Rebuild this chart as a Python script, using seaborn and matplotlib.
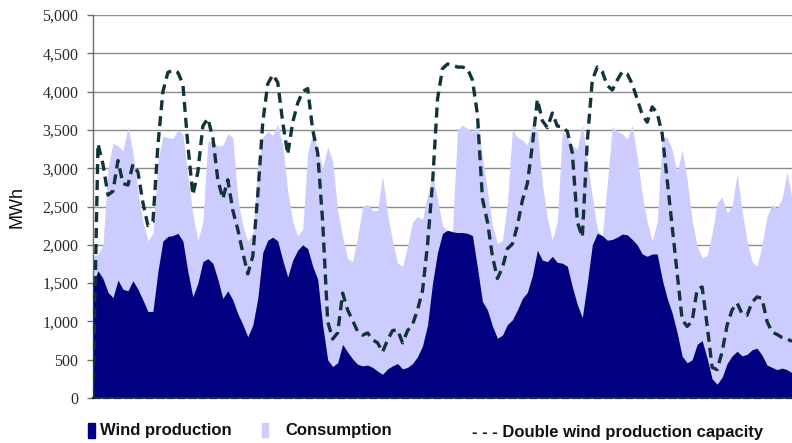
import matplotlib
matplotlib.use("Agg")
import matplotlib.pyplot as plt
import numpy as np
import pandas as pd
import seaborn as sns
from matplotlib.patches import Rectangle
from matplotlib.ticker import FuncFormatter, MultipleLocator

# hourly samples (MWh)
consumption = [
    1850, 1880, 2000, 3000, 3330, 3290, 3230, 3540, 3200, 2700,
    2300, 2050, 2150, 3100, 3420, 3400, 3390, 3500, 3450, 2900,
    2400, 2050, 2300, 3350, 3350, 3290, 3300, 3450, 3400, 2600,
    2250, 2050, 2150, 3000, 3400, 3480, 3430, 3580, 3300, 2700,
    2300, 2120, 2200, 3200, 3450, 3250, 3000, 3280, 3100, 2450,
    2100, 1820, 1780, 2100, 2500, 2530, 2450, 2450, 2900, 2400,
    2050, 1760, 1720, 1980, 2300, 2370, 2330, 2650, 2900, 2600,
    2250, 2180, 2180, 3500, 3560, 3520, 3470, 3600, 3150, 2700,
    2250, 2020, 2050, 2550, 3500, 3400, 3370, 3300, 3580, 3500,
    2800, 2350, 2060, 2300, 3480, 3400, 3300, 3250, 3580, 3100,
    2630, 2200, 2110, 2800, 3540, 3480, 3450, 3380, 3560, 3150,
    2650, 2300, 2050, 2300, 3400, 3400, 3240, 2950, 3240, 2850,
    2320, 1980, 1830, 1860, 2150, 2550, 2620, 2420, 2500, 2930,
    2450, 2050, 1780, 1720, 2000, 2370, 2520, 2480, 2600, 2950,
    2600,
]
wind = [
    1500, 1660, 1560, 1380, 1310, 1540, 1420, 1400, 1530, 1420,
    1280, 1130, 1130, 1650, 2050, 2110, 2120, 2150, 2050, 1650,
    1320, 1500, 1780, 1820, 1760, 1550, 1300, 1400, 1280, 1100,
    960, 800, 950, 1300, 1900, 2060, 2100, 2050, 1800, 1580,
    1800, 1930, 2000, 1950, 1720, 1550, 950, 500, 410, 460,
    700, 600, 510, 440, 420, 430, 400, 350, 310, 380,
    420, 450, 380, 400, 450, 540, 680, 950, 1500, 1900,
    2150, 2190, 2170, 2160, 2160, 2150, 2120, 1700, 1260, 1150,
    940, 780, 820, 960, 1020, 1150, 1300, 1380, 1600, 1930,
    1800, 1780, 1850, 1770, 1760, 1720, 1450, 1220, 1050, 1500,
    2000, 2150, 2120, 2060, 2070, 2100, 2140, 2130, 2070, 2000,
    1880, 1850, 1880, 1880, 1550, 1300, 1110, 850, 545, 460,
    500, 700, 750, 520, 250, 180, 270, 450, 550, 610,
    550, 570, 630, 650, 560, 430, 400, 370, 390, 370,
    330,
]
double_wind = [
    0, 3320, 3050, 2650, 2700, 3100, 2800, 2780, 3050, 2950,
    2550, 2250, 2300, 3300, 4000, 4250, 4280, 4250, 4100, 3300,
    2650, 2950, 3550, 3650, 3400, 2850, 2600, 2850, 2450, 2200,
    1900, 1620, 1850, 2650, 3600, 4100, 4220, 4120, 3600, 3180,
    3600, 3850, 4000, 4040, 3500, 3200, 2300, 1000, 770, 850,
    1370, 1150, 1010, 870, 820, 850, 760, 720, 600, 760,
    880, 890, 720, 880, 960, 1150, 1400, 2000, 2800, 3900,
    4300, 4360, 4350, 4320, 4320, 4300, 4150, 3700, 2600, 2300,
    1850, 1560, 1700, 1950, 2010, 2250, 2580, 2800, 3300, 3900,
    3620, 3530, 3720, 3550, 3540, 3480, 3200, 2300, 2100, 3350,
    4150, 4320, 4260, 4080, 4020, 4150, 4260, 4230, 4100, 3900,
    3700, 3600, 3800, 3720, 3450, 2850, 2240, 1630, 1020, 935,
    1000, 1420, 1450, 950, 400, 370, 600, 950, 1150, 1240,
    1100, 1080, 1250, 1320, 1300, 1000, 860, 830, 790, 770,
    740,
]

WIND_COLOR = "#000080"
CONS_COLOR = "#ccccff"
LINE_COLOR = "#12333a"


def main() -> None:
    sns.set_theme(style="white")
    plt.rcParams["font.family"] = ["Liberation Sans", "DejaVu Sans"]

    df = pd.DataFrame({
        "hour": np.arange(len(consumption)),
        "consumption": consumption,
        "wind": wind,
        "double_wind": double_wind,
    })

    fig = plt.figure(figsize=(7.92, 4.43), dpi=100)
    ax = fig.add_axes([93 / 792, 45 / 443, 1 - 93 / 792, 383 / 443])

    ax.fill_between(df["hour"], 0, df["consumption"], color=CONS_COLOR, lw=0, zorder=2)
    ax.fill_between(df["hour"], 0, df["wind"], color=WIND_COLOR, lw=0, zorder=3)
    sns.lineplot(data=df, x="hour", y="double_wind", ax=ax, color=LINE_COLOR,
                 lw=2.4, linestyle=(0, (3, 1.8)), zorder=4)

    ax.set_xlim(0, len(consumption) - 1)
    ax.set_ylim(0, 5000)
    ax.yaxis.set_major_locator(MultipleLocator(500))
    ax.yaxis.set_major_formatter(FuncFormatter(lambda v, _: f"{int(v):,}"))
    ax.grid(axis="y", color="#8c8c8c", lw=1, zorder=1)
    ax.set_axisbelow(True)
    ax.set_xticks([])
    ax.tick_params(axis="y", left=True, length=4.5, width=1, color="#6e6e6e", pad=6,
                   labelsize=11.5, labelcolor="#2a2a2a")
    for lab in ax.get_yticklabels():
        lab.set_family(["Liberation Serif", "DejaVu Serif"])

    for side in ["top", "right"]:
        ax.spines[side].set_visible(False)
    ax.spines["left"].set_color("#6e6e6e")
    ax.spines["left"].set_linewidth(1)
    ax.spines["bottom"].set_color(LINE_COLOR)
    ax.spines["bottom"].set_linestyle((0, (3, 1.8)))
    ax.spines["bottom"].set_linewidth(1.6)
    ax.spines["bottom"].set_zorder(5)

    ax.set_xlabel("")
    ax.set_ylabel("MWh", fontsize=13, color="#111111", labelpad=12)

    # legend row under the plot
    fig.patches.append(Rectangle((88 / 792, 1 - 438 / 443), 7 / 792, 15 / 443,
                                 transform=fig.transFigure, color=WIND_COLOR))
    fig.patches.append(Rectangle((262 / 792, 1 - 437 / 443), 6 / 792, 14 / 443,
                                 transform=fig.transFigure, color=CONS_COLOR))
    legend_font = dict(fontsize=12, fontweight="bold", color="#111111", va="center",
                       family=["Liberation Sans Narrow", "Liberation Sans", "DejaVu Sans"])
    fig.text(100 / 792, 1 - 431 / 443, "Wind production", **legend_font)
    fig.text(285 / 792, 1 - 431 / 443, "Consumption", **legend_font)
    fig.text(472 / 792, 1 - 432 / 443, "- - - Double wind production capacity", **legend_font)

    fig.savefig("out.png", dpi=100)
    plt.close(fig)


if __name__ == "__main__":
    main()
